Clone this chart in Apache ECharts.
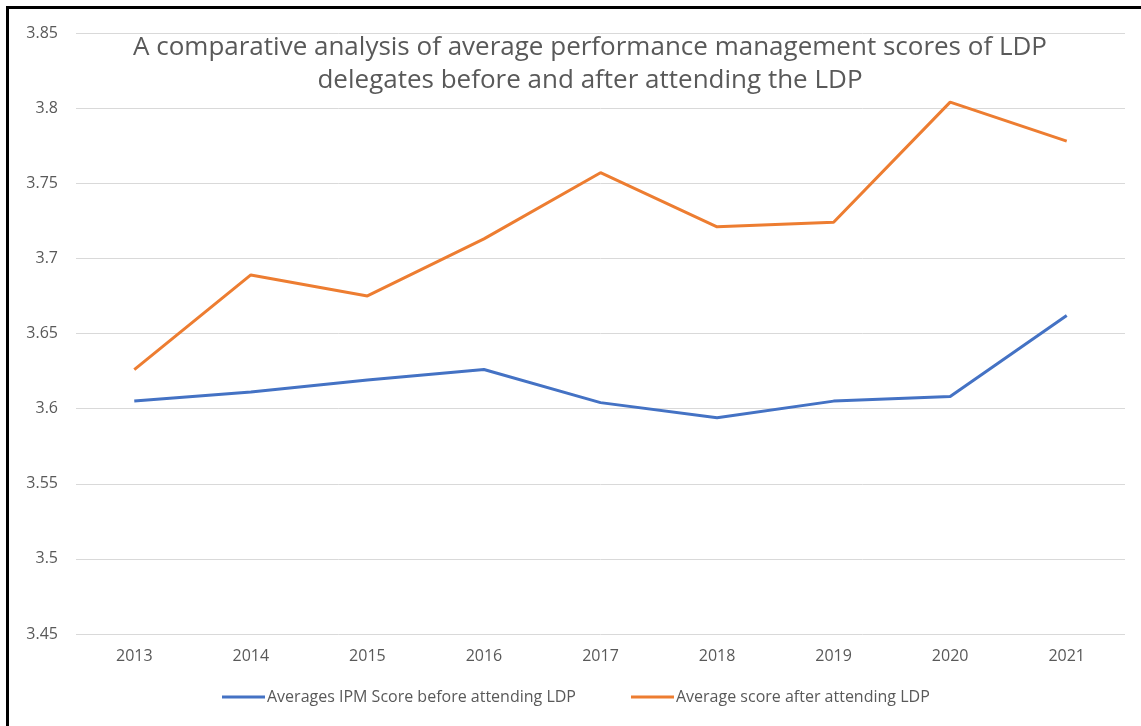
<!DOCTYPE html>
<html>
<head>
<meta charset="utf-8">
<script src="https://cdn.jsdelivr.net/npm/echarts@6/dist/echarts.min.js"></script>
<style>
  html, body { margin: 0; padding: 0; background: #fff; }
  #main { width: 1141px; height: 726px; }
  #frame {
    position: absolute; left: 6px; top: 6px; width: 1200px; height: 800px;
    border: 3px solid #000; pointer-events: none;
  }
</style>
</head>
<body>
<div id="main"></div>
<div id="frame"></div>
<script>
// years on the x axis
const years = ['2013', '2014', '2015', '2016', '2017', '2018', '2019', '2020', '2021'];
// average IPM score before attending LDP
const beforeScores = [3.605, 3.611, 3.619, 3.626, 3.604, 3.594, 3.605, 3.608, 3.662];
// average score after attending LDP
const afterScores = [3.626, 3.689, 3.675, 3.713, 3.757, 3.721, 3.724, 3.804, 3.778];

const seriesNames = ['Averages IPM Score before attending LDP', 'Average score after attending LDP'];
const titleText = 'A comparative analysis of average performance management scores of LDP\ndelegates before and after attending the LDP';

const labelFont = '"Open Sans", sans-serif';
const gray = '#595959';

let myChart = echarts.init(document.getElementById('main'));

let option = {
  animation: false,
  color: ['#4472C4', '#ED7D31'],
  title: {
    text: titleText,
    left: 585,
    top: 26,
    textAlign: 'center',
    textStyle: {
      fontFamily: labelFont,
      fontSize: 26,
      fontWeight: 'normal',
      color: gray,
      lineHeight: 33
    }
  },
  legend: {
    top: 684,
    left: 217,
    itemWidth: 43,
    itemHeight: 3,
    itemGap: 55,
    icon: 'rect',
    textStyle: { fontFamily: labelFont, fontSize: 16, color: gray, padding: [0, 0, 0, -3] },
    data: seriesNames
  },
  grid: {
    left: 76,
    right: 16,
    top: 33,
    bottom: 92
  },
  xAxis: {
    type: 'category',
    data: years,
    boundaryGap: true,
    axisLine: { show: false },
    axisTick: { show: false },
    axisLabel: { fontFamily: labelFont, fontSize: 16, color: gray, margin: 14 }
  },
  yAxis: {
    type: 'value',
    min: 3.45,
    max: 3.85,
    interval: 0.05,
    axisLine: { show: false },
    axisTick: { show: false },
    axisLabel: {
      fontFamily: labelFont,
      fontSize: 16,
      color: gray,
      margin: 18,
      formatter: function (v) { return String(Math.round(v * 100) / 100); }
    },
    splitLine: { lineStyle: { color: '#d9d9d9', width: 1 } }
  },
  series: [
    {
      name: seriesNames[0],
      type: 'line',
      data: beforeScores,
      showSymbol: false,
      lineStyle: { width: 3 }
    },
    {
      name: seriesNames[1],
      type: 'line',
      data: afterScores,
      showSymbol: false,
      lineStyle: { width: 3 }
    }
  ]
};

myChart.setOption(option);
window.onresize = function () {
  myChart.resize();
};
</script>
</body>
</html>
